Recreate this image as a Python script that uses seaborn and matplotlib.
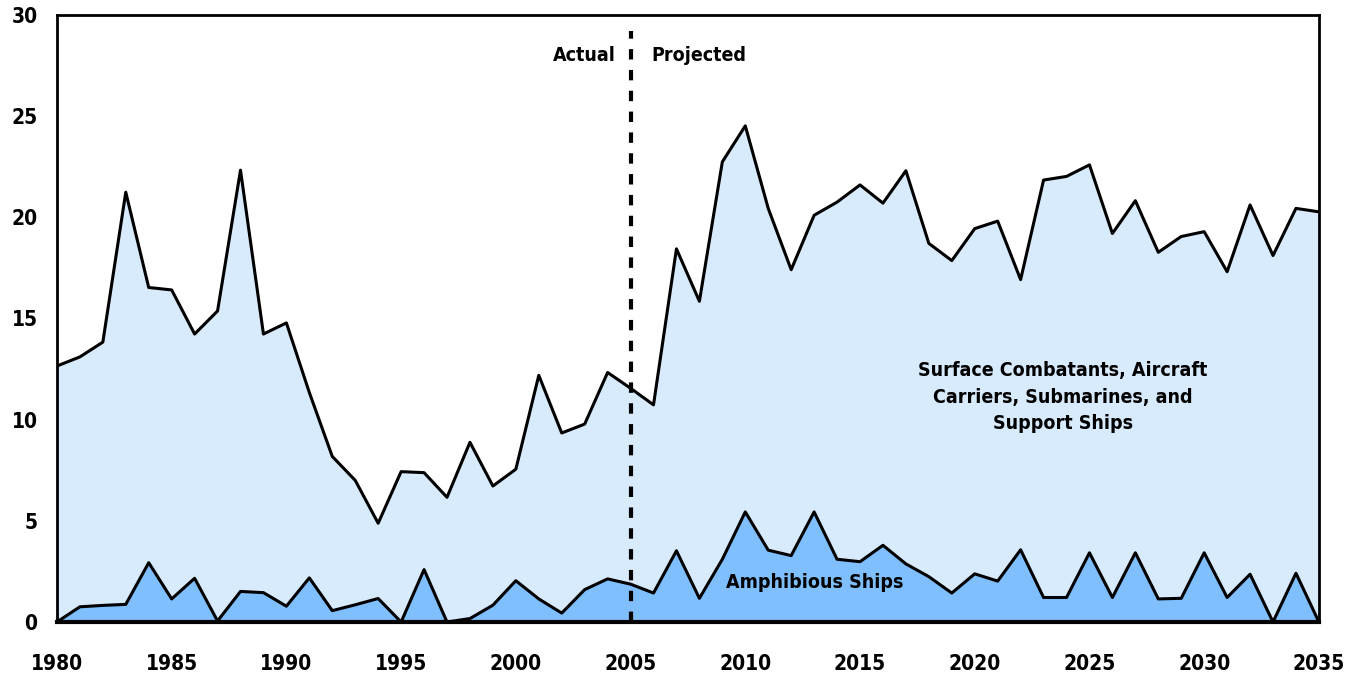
import numpy as np
import pandas as pd
import matplotlib
matplotlib.use("Agg")
import matplotlib.pyplot as plt
import seaborn as sns

years = list(range(1980, 2036))

# total ships (top line) and amphibious ships (bottom layer)
total = [12.65, 13.1, 13.83, 21.24, 16.53, 16.41, 14.23, 15.37, 22.33, 14.23,
         14.78, 11.34, 8.18, 7.0, 4.88, 7.43, 7.38, 6.16, 8.88, 6.72,
         7.55, 12.19, 9.34, 9.78, 12.33, 11.55, 10.73, 18.44, 15.85, 22.74,
         24.52, 20.44, 17.41, 20.1, 20.75, 21.6, 20.7, 22.3, 18.71, 17.86,
         19.44, 19.81, 16.92, 21.84, 22.02, 22.59, 19.2, 20.82, 18.27, 19.05,
         19.29, 17.31, 20.61, 18.11, 20.44, 20.27]
amphibious = [0.0, 0.75, 0.82, 0.87, 2.93, 1.14, 2.16, 0.05, 1.51, 1.45,
              0.78, 2.18, 0.56, 0.85, 1.16, 0.0, 2.59, 0.0, 0.17, 0.83,
              2.04, 1.14, 0.44, 1.6, 2.13, 1.87, 1.43, 3.52, 1.17, 3.1,
              5.44, 3.55, 3.28, 5.44, 3.1, 2.98, 3.79, 2.87, 2.24, 1.43,
              2.38, 2.02, 3.57, 1.21, 1.21, 3.42, 1.21, 3.42, 1.14, 1.17,
              3.42, 1.21, 2.36, 0.0, 2.41, 0.0]

df = pd.DataFrame({"year": years, "total": total, "amphibious": amphibious})

sns.set_style("white")
plt.rcParams["font.family"] = ["DejaVu Sans"]
plt.rcParams["font.stretch"] = "condensed"
plt.rcParams["font.weight"] = "bold"
plt.rcParams["text.color"] = "black"
plt.rcParams["xtick.color"] = "black"
plt.rcParams["ytick.color"] = "black"

fig = plt.figure(figsize=(13.59, 6.73), dpi=100)
ax = fig.add_axes([0.0419, 0.0758, 0.9286, 0.902])

light = "#d8ebfd"
dark = "#7fbffd"
ax.fill_between(df.year, 0, df.total, color=light, lw=0)
ax.fill_between(df.year, 0, df.amphibious, color=dark, lw=0)
sns.lineplot(data=df, x="year", y="total", color="black", lw=2.2, ax=ax)
sns.lineplot(data=df, x="year", y="amphibious", color="black", lw=2.2, ax=ax)

ax.axvline(2005, ymin=0, ymax=0.973, color="black", ls=(0, (2.5, 2.5)), lw=3)

ax.set_xlim(1980, 2035)
ax.set_ylim(0, 30)
ax.set_xticks(range(1980, 2036, 5))
ax.set_yticks(range(0, 31, 5))
ax.set_xlabel("")
ax.set_ylabel("")
ax.tick_params(axis="both", direction="in", length=7, width=1.2, color="#333333",
               labelsize=15)
ax.tick_params(axis="x", pad=23)
ax.tick_params(axis="y", pad=14)
for lab in ax.get_xticklabels() + ax.get_yticklabels():
    lab.set_fontweight("bold")

for side in ["left", "top", "right"]:
    ax.spines[side].set_visible(True)
    ax.spines[side].set_color("black")
    ax.spines[side].set_linewidth(2)
ax.spines["bottom"].set_color("black")
ax.spines["bottom"].set_linewidth(3)

ax.text(2004.36, 28.0, "Actual", ha="right", va="center", fontsize=14, fontweight="bold")
ax.text(2005.89, 28.0, "Projected", ha="left", va="center", fontsize=14, fontweight="bold")
ax.text(2023.84, 11.1, "Surface Combatants, Aircraft\nCarriers, Submarines, and\nSupport Ships",
        ha="center", va="center", fontsize=14, fontweight="bold", linespacing=1.5)
ax.text(2013.03, 1.95, "Amphibious Ships", ha="center", va="center", fontsize=14,
        fontweight="bold")

fig.savefig("out.png", dpi=100)
